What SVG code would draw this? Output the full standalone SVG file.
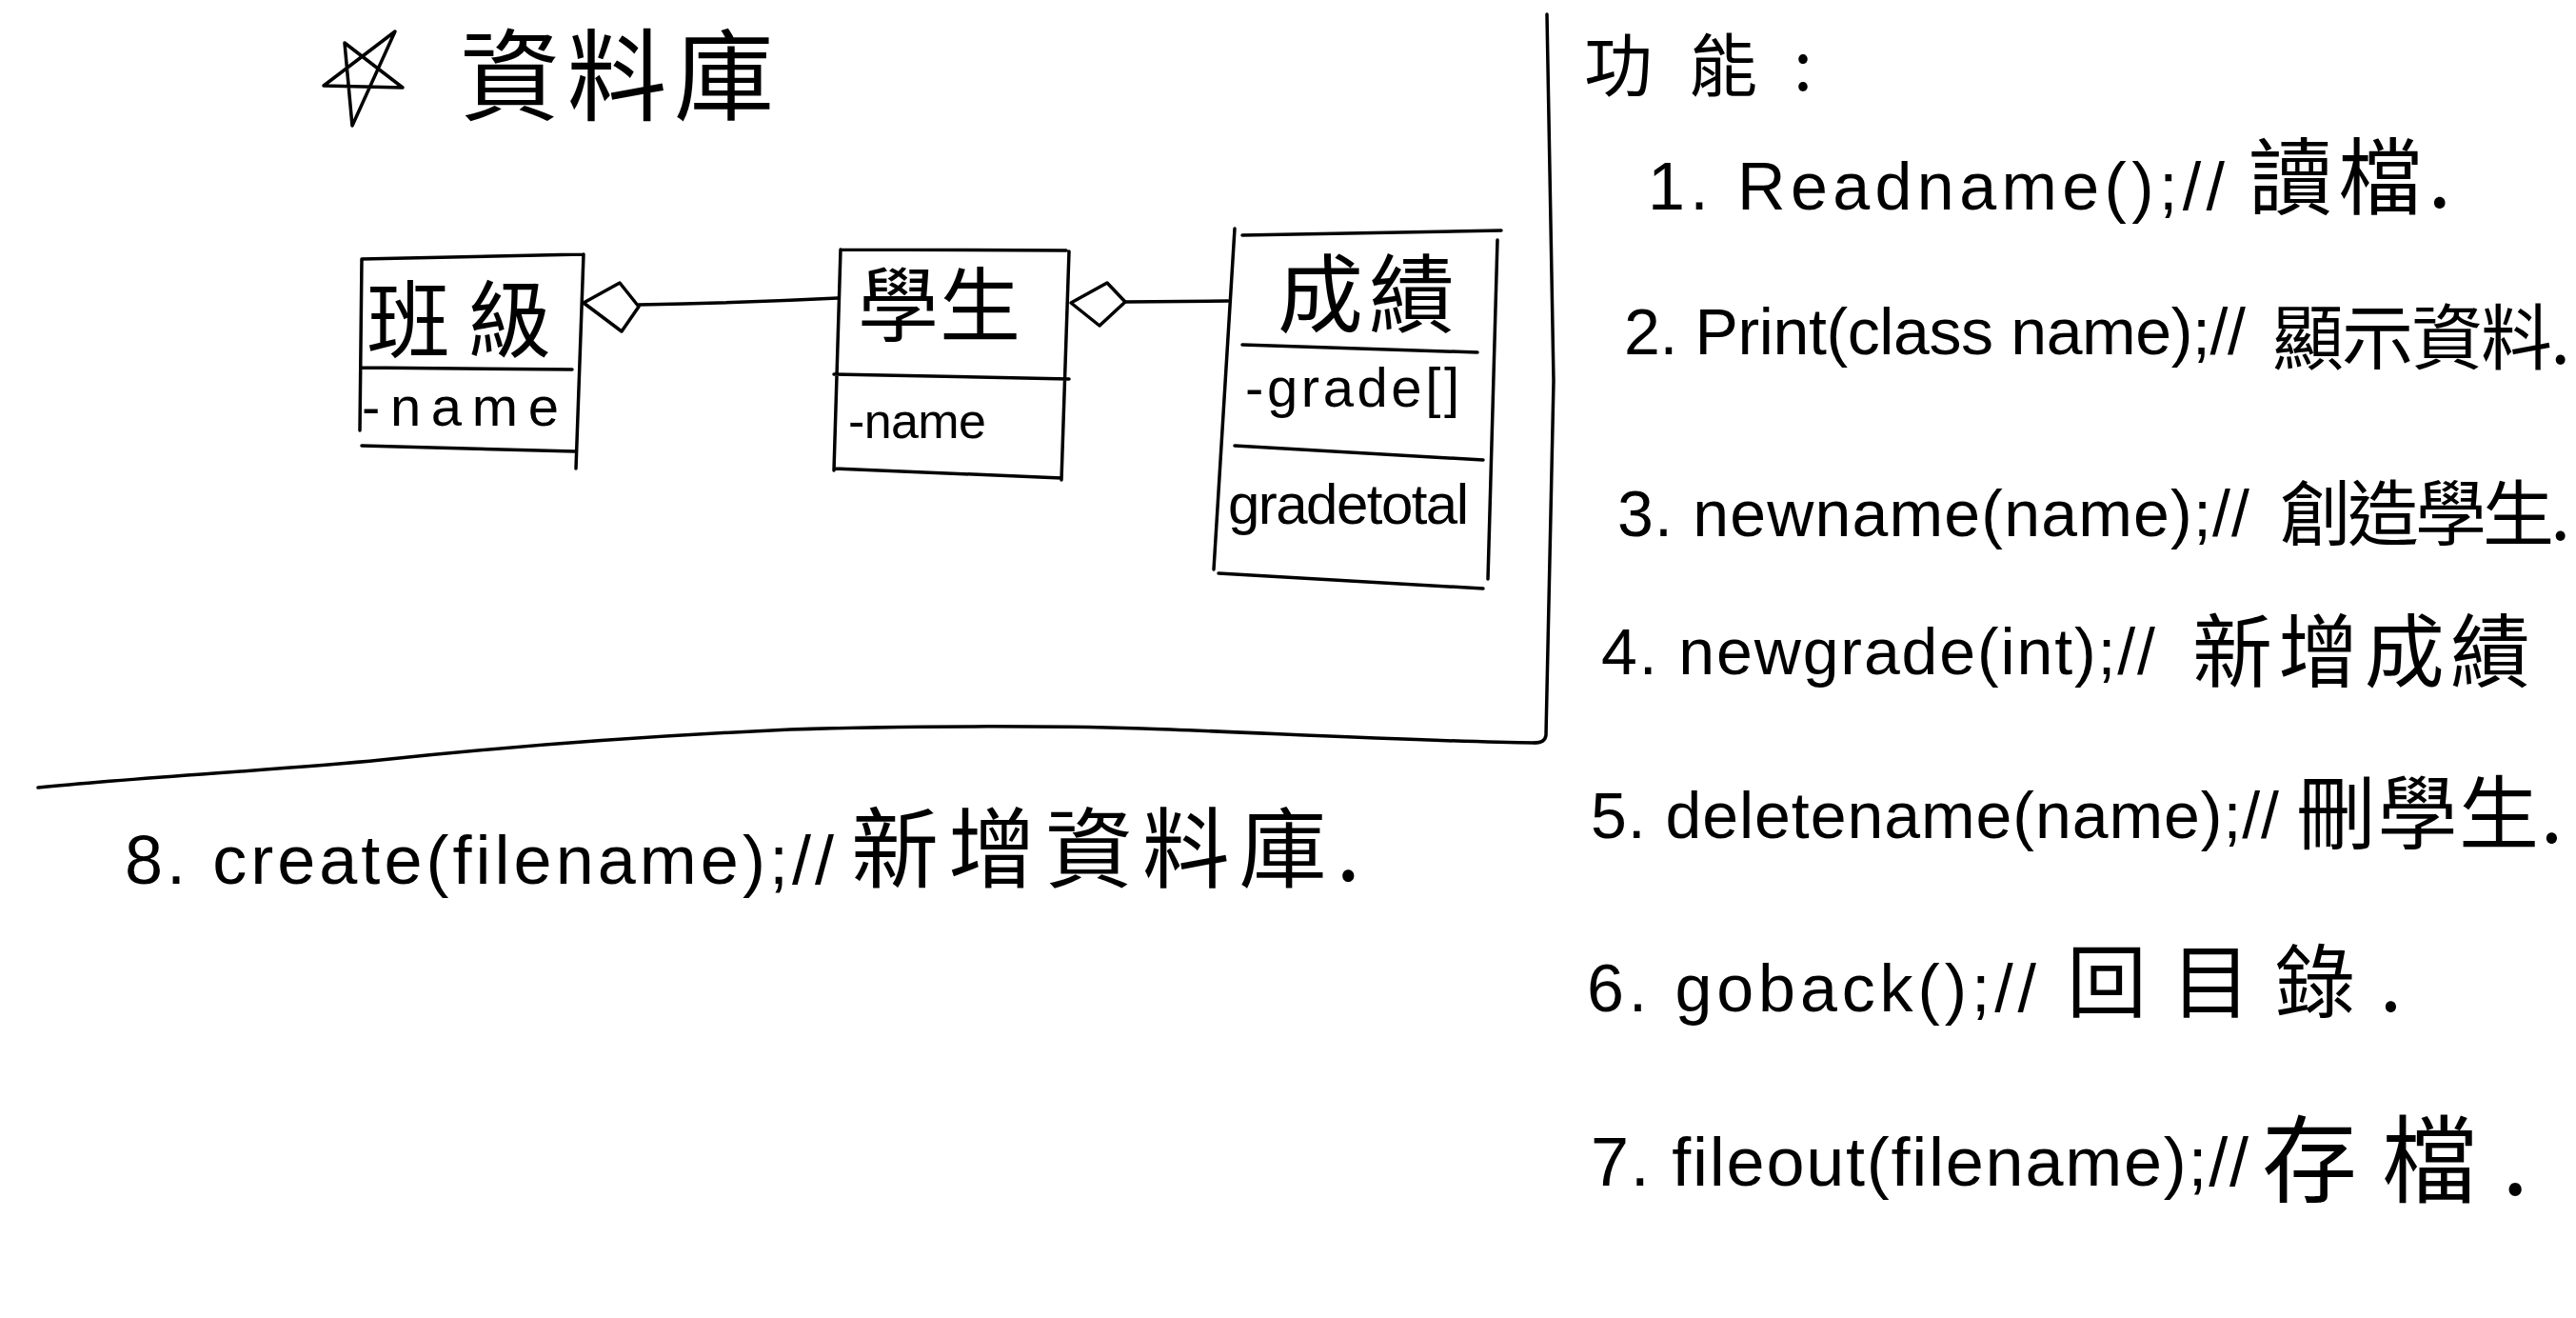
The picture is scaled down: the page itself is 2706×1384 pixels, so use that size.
<svg xmlns="http://www.w3.org/2000/svg" width="2706" height="1384" viewBox="0 0 2706 1384">
<style>
.ln{fill:none;stroke:#000;stroke-width:3.5;stroke-linecap:round;stroke-linejoin:round}
.lat{font-family:"Liberation Sans","Noto Sans CJK TC",sans-serif;fill:#000}
.cjk{font-family:"Noto Sans CJK TC","Noto Sans CJK SC",sans-serif;fill:#000}
</style>
<rect width="2706" height="1384" fill="#fff"/>
<g id="title">
<path class="ln" d="M415,33 L370,132 L362,45 L423,92 L340,90 Z"/>
<text class="cjk" x="483" y="118" font-size="105" textLength="330" lengthAdjust="spacing">資料庫</text>
</g>
<g id="separators">
<path class="ln" d="M1625,15 L1632,400 L1624,772 Q1623,780 1612,780"/>
<path class="ln" d="M1612,780 C1500,779 1300,768 1200,765 C1100,762 950,762 830,766 C700,772 550,782 400,798 C300,808 150,816 40,827"/>
</g>
<g id="node-class">
<path class="ln" d="M380,272 L613,267 M380,272 L378,452 M613,267 L605,492 M380,386 L601,388 M380,468 L604,474"/>
<text class="cjk" x="385" y="368" font-size="88" textLength="194" lengthAdjust="spacing">班級</text>
<text class="lat" x="380" y="447" font-size="58" textLength="207" lengthAdjust="spacing">-name</text>
</g>
<g id="node-student">
<path class="ln" d="M883,262 L1120,263 M883,262 L876,494 M1123,264 L1115,504 M876,393 L1123,398 M876,492 L1115,502"/>
<text class="cjk" x="901" y="352" font-size="85" textLength="171" lengthAdjust="spacing">學生</text>
<text class="lat" x="891" y="460" font-size="52" textLength="145" lengthAdjust="spacing">-name</text>
</g>
<g id="node-grade">
<path class="ln" d="M1305,247 L1577,242 M1297,240 L1275,598 M1573,252 L1563,608 M1305,362 L1552,370 M1297,468 L1558,483 M1280,602 L1558,618"/>
<text class="cjk" x="1342" y="342" font-size="90" textLength="186" lengthAdjust="spacing">成績</text>
<text class="lat" x="1308" y="427" font-size="58" textLength="225" lengthAdjust="spacing">-grade[]</text>
<text class="lat" x="1290" y="550" font-size="60" textLength="253" lengthAdjust="spacing">gradetotal</text>
</g>
<g id="connectors">
<path class="ln" d="M613,318 L651,297 L671,322 L653,348 Z"/>
<path class="ln" d="M671,320 Q780,318 880,313"/>
<path class="ln" d="M1125,318 L1163,297 L1182,317 L1155,342 Z"/>
<path class="ln" d="M1182,317 L1290,316"/>
</g>
<g id="functions">
<text class="cjk" x="1664" y="95" font-size="72" textLength="240" lengthAdjust="spacing">功能:</text>
<text class="lat" x="1731" y="220" font-size="70" textLength="606" lengthAdjust="spacing">1. Readname();//</text>
<text class="cjk" x="2362" y="218" font-size="88" textLength="213" lengthAdjust="spacing">讀檔.</text>
<text class="lat" x="1706" y="372" font-size="68" textLength="653" lengthAdjust="spacing">2. Print(class name);//</text>
<text class="cjk" x="2387" y="382" font-size="75" textLength="313" lengthAdjust="spacing">顯示資料.</text>
<text class="lat" x="1699" y="563" font-size="68" textLength="664" lengthAdjust="spacing">3. newname(name);//</text>
<text class="cjk" x="2395" y="567" font-size="75" textLength="305" lengthAdjust="spacing">創造學生.</text>
<text class="lat" x="1682" y="708" font-size="68" textLength="582" lengthAdjust="spacing">4. newgrade(int);//</text>
<text class="cjk" x="2303" y="715" font-size="84" textLength="355" lengthAdjust="spacing">新增成績</text>
<text class="lat" x="1671" y="880" font-size="68" textLength="723" lengthAdjust="spacing">5. deletename(name);//</text>
<text class="cjk" x="2412" y="885" font-size="84" textLength="280" lengthAdjust="spacing">刪學生.</text>
<text class="lat" x="1667" y="1062" font-size="70" textLength="472" lengthAdjust="spacing">6. goback();//</text>
<text class="cjk" x="2171" y="1062" font-size="84" textLength="352" lengthAdjust="spacing">回目錄.</text>
<text class="lat" x="1671" y="1245" font-size="72" textLength="691" lengthAdjust="spacing">7. fileout(filename);//</text>
<text class="cjk" x="2376" y="1255" font-size="100" textLength="280" lengthAdjust="spacing">存檔.</text>
<text class="lat" x="131" y="928" font-size="72" textLength="745" lengthAdjust="spacing">8. create(filename);//</text>
<text class="cjk" x="894" y="925" font-size="92" textLength="535" lengthAdjust="spacing">新增資料庫.</text>
</g>
</svg>
